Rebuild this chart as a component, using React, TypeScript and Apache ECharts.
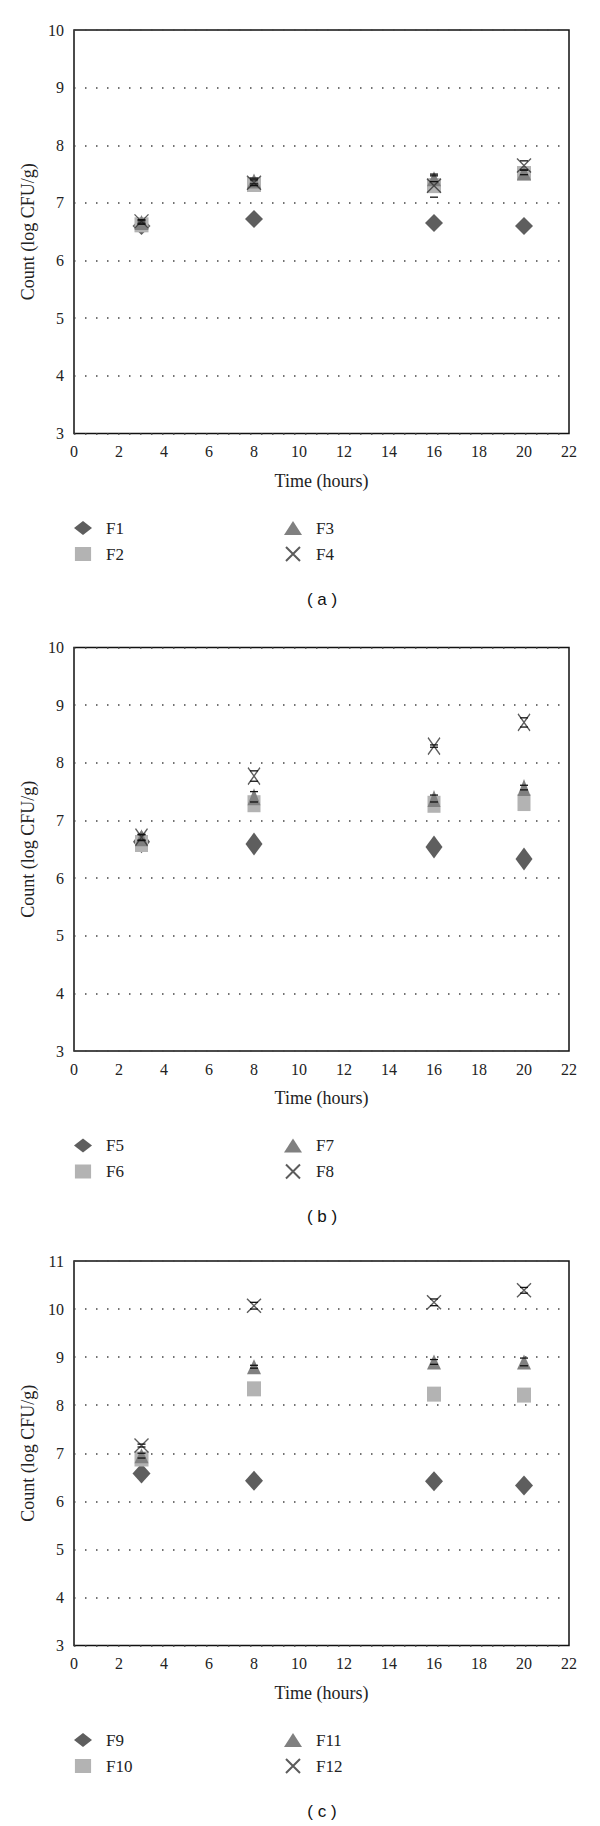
import React, { useEffect, useRef } from "react";
import * as echarts from "echarts";

// ---- data ----
const hours = [3, 8, 16, 20];

const namesA = ["F1", "F2", "F3", "F4"];
const F1 = [6.6, 6.72, 6.65, 6.6];
const F2 = [6.62, 7.32, 7.3, 7.51];
const F3 = [6.66, 7.38, 7.42, 7.53];
const F4 = [6.68, 7.35, 7.3, 7.65];
const errF4 = [0.03, 0.05, 0.2, 0.08];
const errF3 = [0.03, 0.05, 0.05, 0.04];

const namesB = ["F5", "F6", "F7", "F8"];
const F5 = [6.63, 6.59, 6.54, 6.33];
const F6 = [6.6, 7.29, 7.28, 7.31];
const F7 = [6.7, 7.41, 7.38, 7.57];
const F8 = [6.71, 7.77, 8.29, 8.7];
const errF7 = [0.05, 0.09, 0.06, 0.04];
const errF8 = [0.05, 0.09, 0.02, 0.08];

const namesC = ["F9", "F10", "F11", "F12"];
const F9 = [6.58, 6.43, 6.42, 6.33];
const F10 = [6.88, 8.34, 8.23, 8.21];
const F11 = [6.95, 8.8, 8.9, 8.9];
const F12 = [7.16, 10.07, 10.14, 10.39];
const errF11 = [0.05, 0.03, 0.05, 0.08];
const errF12 = [0.03, 0.07, 0.07, 0.06];

const panelLabels = ["( a )", "( b )", "( c )"];
const yMaxes = [10, 10, 11];

// ---- styling / layout ----
const SERIF = '"Liberation Serif", "DejaVu Serif", serif';
const SANS = '"Liberation Sans", Arial, sans-serif';
const X_PATH = "path://M0,0L10,10M10,0L0,10";
const symbols = ["diamond", "rect", "triangle", X_PATH];
const legendIcons = [
  "path://M0,7L9,0L18,7L9,14Z",
  "path://M0,0L15,0L15,13L0,13Z",
  "triangle",
  X_PATH,
];
const fills = ["#5e5e5e", "#b3b3b3", "#808080", "rgba(0,0,0,0)"];

const layout = [
  { top: 30, bottom: 433.5 },
  { top: 647.5, bottom: 1051 },
  { top: 1261, bottom: 1645.5 },
];
const symbolSizes = [
  [[18, 18], [14, 15], [14, 15], [14, 14]],
  [[17, 23], [13, 17], [13, 17], [12, 17]],
  [[18, 20], [14, 15], [14, 15], [14, 14]],
];

export default function App() {
  const ref = useRef<HTMLDivElement>(null);

  useEffect(() => {
    if (!ref.current) return;
    const chart = echarts.init(ref.current, null, { renderer: "svg" });

    const panelNames = [namesA, namesB, namesC];
    const panelValues = [
      [F1, F2, F3, F4],
      [F5, F6, F7, F8],
      [F9, F10, F11, F12],
    ];
    const panelErrors = [
      [
        [2, errF3],
        [3, errF4],
      ],
      [
        [2, errF7],
        [3, errF8],
      ],
      [
        [2, errF11],
        [3, errF12],
      ],
    ] as [number, number[]][][];

    const grid: any[] = [];
    const xAxis: any[] = [];
    const yAxis: any[] = [];
    const series: any[] = [];
    const legend: any[] = [];
    const graphic: any[] = [];

    layout.forEach((L, p) => {
      grid.push({
        left: 74,
        top: L.top,
        width: 495,
        height: L.bottom - L.top,
        show: true,
        borderColor: "#111",
        borderWidth: 1.5,
        backgroundColor: "transparent",
      });
      xAxis.push({
        gridIndex: p,
        type: "value",
        min: 0,
        max: 22,
        interval: 2,
        axisLine: { show: false },
        axisTick: { show: false },
        splitLine: { show: false },
        axisLabel: { fontFamily: SERIF, fontSize: 16, color: "#222", margin: 10 },
        name: "Time (hours)",
        nameLocation: "middle",
        nameGap: 38,
        nameTextStyle: { fontFamily: SERIF, fontSize: 18, color: "#222" },
      });
      yAxis.push({
        gridIndex: p,
        type: "value",
        min: 3,
        max: yMaxes[p],
        interval: 1,
        axisLine: { show: false },
        axisTick: { show: false },
        splitLine: {
          show: true,
          lineStyle: { type: [1.5, 9.5], color: "#444", width: 1.5 },
        },
        axisLabel: { fontFamily: SERIF, fontSize: 16, color: "#222", margin: 10 },
        name: "Count (log CFU/g)",
        nameLocation: "middle",
        nameGap: 30,
        nameTextStyle: { fontFamily: SERIF, fontSize: 18, color: "#222" },
      });

      const names = panelNames[p];
      panelValues[p].forEach((vals, s) => {
        const isX = s === 3;
        series.push({
          type: "scatter",
          name: names[s],
          xAxisIndex: p,
          yAxisIndex: p,
          symbol: symbols[s],
          symbolSize: symbolSizes[p][s],
          data: hours.map((h, k) => [h, vals[k]]),
          itemStyle: isX
            ? { color: fills[s], borderColor: "#333", borderWidth: 1.4 }
            : { color: fills[s], opacity: 1 },
          z: 2 + s * 0.1,
          emphasis: { disabled: true },
        });
      });

      panelErrors[p].forEach(([s, errs]) => {
        const vals = panelValues[p][s];
        series.push({
          type: "custom",
          name: names[s] + " error",
          xAxisIndex: p,
          yAxisIndex: p,
          silent: true,
          z: 5,
          data: hours.map((h, k) => [h, vals[k], errs[k]]),
          encode: { x: 0, y: 1 },
          renderItem: (_params: any, api: any) => {
            const x = api.value(0);
            const y = api.value(1);
            const e = api.value(2);
            const t = api.coord([x, y + e]);
            const b = api.coord([x, y - e]);
            const w = 4;
            const st = { stroke: "#111", lineWidth: 1.3 };
            return {
              type: "group",
              children: [
                { type: "line", shape: { x1: t[0] - w, y1: t[1], x2: t[0] + w, y2: t[1] }, style: st },
                { type: "line", shape: { x1: b[0] - w, y1: b[1], x2: b[0] + w, y2: b[1] }, style: st },
              ],
            };
          },
        });
      });

      const legendBase = {
        orient: "vertical",
        top: L.bottom + 86,
        padding: 0,
        itemWidth: 18,
        itemHeight: 14,
        itemGap: 9,
        symbolKeepAspect: true,
        selectedMode: false,
        textStyle: {
          fontFamily: SERIF,
          fontSize: 17,
          color: "#222",
          lineHeight: 17,
          padding: [0, 0, 0, 9],
        },
      };
      legend.push({
        ...legendBase,
        left: 74,
        data: [
          { name: names[0], icon: legendIcons[0] },
          { name: names[1], icon: legendIcons[1] },
        ],
      });
      legend.push({
        ...legendBase,
        left: 284,
        data: [
          { name: names[2], icon: legendIcons[2] },
          { name: names[3], icon: legendIcons[3] },
        ],
      });

      graphic.push({
        type: "text",
        x: 322,
        y: L.bottom + 165.5,
        style: {
          text: panelLabels[p],
          fontFamily: SANS,
          fontSize: 17,
          fill: "#111",
          align: "center",
          verticalAlign: "middle",
        },
      });
    });

    chart.setOption({
      animation: false,
      backgroundColor: "#fff",
      grid,
      xAxis,
      yAxis,
      series,
      legend,
      graphic,
    });

    return () => chart.dispose();
  }, []);

  return (
    <div
      ref={ref}
      style={{ position: "absolute", left: 0, top: 0, width: 600, height: 1826, background: "#fff" }}
    />
  );
}
